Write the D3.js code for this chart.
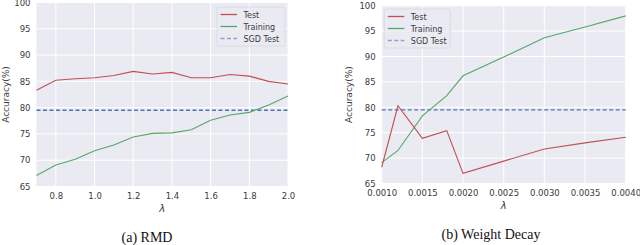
<!DOCTYPE html>
<html lang="en">
<head>
  <meta charset="UTF-8">
  <title>RMD vs Weight Decay accuracy</title>
  <style>
    body { margin: 0; background: white; overflow: hidden; }
    .tick text { font-family: "DejaVu Sans", sans-serif; font-size: 8.5px; fill: #3a3a3a; }
    .axis-label { font-family: "DejaVu Sans", sans-serif; font-size: 9px; fill: #3a3a3a; }
    .legend text { font-family: "DejaVu Sans", sans-serif; font-size: 8px; fill: #3a3a3a; }
    .caption { font-family: "Liberation Serif", "Times New Roman", serif; font-size: 14px; fill: #111; }
  </style>
</head>
<body>
  <script src="https://d3js.org/d3.v7.min.js"></script>
  <script>
    const width = 640;
    const height = 245;

    // (a) RMD
    const rmdLambda = [0.7, 0.8, 0.9, 1.0, 1.1, 1.2, 1.3, 1.4, 1.5, 1.6, 1.7, 1.8, 1.9, 2.0];
    const rmdTest = [83.3, 85.2, 85.5, 85.7, 86.1, 86.9, 86.4, 86.7, 85.7, 85.7, 86.3, 86.0, 85.0, 84.5];
    const rmdTraining = [67.1, 69.1, 70.2, 71.8, 72.9, 74.4, 75.1, 75.2, 75.8, 77.6, 78.6, 79.1, 80.5, 82.2];
    const rmdTicks = [0.8, 1.0, 1.2, 1.4, 1.6, 1.8, 2.0];

    // (b) Weight Decay
    const wdLambda = [0.0010, 0.0012, 0.0015, 0.0018, 0.0020, 0.0025, 0.0030, 0.0035, 0.0040];
    const wdTest = [68.2, 80.3, 73.9, 75.4, 67.0, 69.4, 71.8, 73.0, 74.1];
    const wdTraining = [69.1, 71.5, 78.3, 82.3, 86.2, 89.9, 93.7, 95.8, 98.0];
    const wdTicks = [0.0010, 0.0015, 0.0020, 0.0025, 0.0030, 0.0035, 0.0040];

    const sgdTest = 79.5;
    const yTicks = [65, 70, 75, 80, 85, 90, 95, 100];
    const legendNames = ["Test", "Training", "SGD Test"];

    const red = "#C44E52", green = "#55A868", blue = "#4C72B0";

    const svg = d3.select("body").append("svg")
      .attr("width", width)
      .attr("height", height);

    function drawPanel(opts) {
      const g = svg.append("g");
      const x = d3.scaleLinear().domain(opts.xDomain).range([opts.left, opts.right]);
      const y = d3.scaleLinear().domain([65, 100]).range([opts.bottom, opts.top]);

      g.append("rect")
        .attr("x", opts.left).attr("y", opts.top)
        .attr("width", opts.right - opts.left).attr("height", opts.bottom - opts.top)
        .attr("fill", "#EAEAF2");

      // grid
      g.selectAll(".vgrid").data(opts.xTicks).enter().append("line")
        .attr("x1", d => x(d)).attr("x2", d => x(d))
        .attr("y1", opts.top).attr("y2", opts.bottom)
        .attr("stroke", "white").attr("stroke-width", 1);
      g.selectAll(".hgrid").data(yTicks).enter().append("line")
        .attr("x1", opts.left).attr("x2", opts.right)
        .attr("y1", d => y(d)).attr("y2", d => y(d))
        .attr("stroke", "white").attr("stroke-width", 1);

      const xAxis = d3.axisBottom(x).tickValues(opts.xTicks).tickFormat(opts.xFormat).tickSize(0).tickPadding(6);
      g.append("g").attr("transform", `translate(0,${opts.bottom})`).call(xAxis)
        .call(a => a.select(".domain").remove());
      const yAxis = d3.axisLeft(y).tickValues(yTicks).tickFormat(d3.format("d")).tickSize(0).tickPadding(6);
      g.append("g").attr("transform", `translate(${opts.left},0)`).call(yAxis)
        .call(a => a.select(".domain").remove());

      g.append("text").attr("class", "axis-label")
        .attr("transform", `translate(${opts.left - opts.yLabelOffset},${(opts.top + opts.bottom) / 2}) rotate(-90)`)
        .attr("text-anchor", "middle")
        .text("Accuracy(%)");
      g.append("text").attr("class", "axis-label")
        .attr("x", (opts.left + opts.right) / 2).attr("y", opts.bottom + 25)
        .attr("text-anchor", "middle")
        .style("font-style", "italic").style("font-size", "10px")
        .text("λ");

      const line = d3.line().x(d => x(d[0])).y(d => y(d[1]));

      g.append("line")
        .attr("x1", opts.left).attr("x2", opts.right)
        .attr("y1", y(sgdTest)).attr("y2", y(sgdTest))
        .attr("stroke", blue).attr("stroke-width", 1.3).attr("stroke-dasharray", "4,2.5");
      g.append("path").datum(d3.zip(opts.lambda, opts.training))
        .attr("d", line).attr("fill", "none").attr("stroke", green).attr("stroke-width", 1.1);
      g.append("path").datum(d3.zip(opts.lambda, opts.test))
        .attr("d", line).attr("fill", "none").attr("stroke", red).attr("stroke-width", 1.1);

      // legend
      const lg = g.append("g").attr("class", "legend")
        .attr("transform", `translate(${opts.legendX},${opts.legendY})`);
      lg.append("rect").attr("x", 0).attr("y", 0)
        .attr("width", opts.legendW).attr("height", 39).attr("rx", 2)
        .attr("fill", "#EAEAF2").attr("fill-opacity", 0.8)
        .attr("stroke", "#d8d8e0").attr("stroke-width", 0.8);
      const colors = [red, green, blue];
      legendNames.forEach((name, i) => {
        const yy = 7.5 + i * 12;
        lg.append("line").attr("x1", 3.5).attr("x2", 20).attr("y1", yy).attr("y2", yy)
          .attr("stroke", colors[i]).attr("stroke-width", 1.3)
          .attr("stroke-dasharray", i === 2 ? "4,2.5" : null)
          .attr("stroke-opacity", i === 2 ? 0.6 : 1);
        lg.append("text").attr("x", 26.5).attr("y", yy + 3).text(name);
      });

      svg.append("text").attr("class", "caption")
        .attr("x", opts.captionX).attr("y", opts.captionY)
        .attr("text-anchor", "middle")
        .text(opts.caption);
    }

    drawPanel({
      left: 36.5, right: 288, top: 2.5, bottom: 186.5,
      xDomain: [0.7, 2.0], xTicks: rmdTicks, xFormat: d3.format(".1f"),
      lambda: rmdLambda, test: rmdTest, training: rmdTraining,
      yLabelOffset: 28,
      legendX: 217, legendY: 7, legendW: 68,
      caption: "(a) RMD", captionX: 147, captionY: 242
    });

    drawPanel({
      left: 381.7, right: 625.7, top: 5.7, bottom: 183.5,
      xDomain: [0.0010, 0.0040], xTicks: wdTicks, xFormat: d3.format(".4f"),
      lambda: wdLambda, test: wdTest, training: wdTraining,
      yLabelOffset: 30,
      legendX: 384.3, legendY: 9, legendW: 66,
      caption: "(b) Weight Decay", captionX: 491, captionY: 239
    });
  </script>
</body>
</html>
